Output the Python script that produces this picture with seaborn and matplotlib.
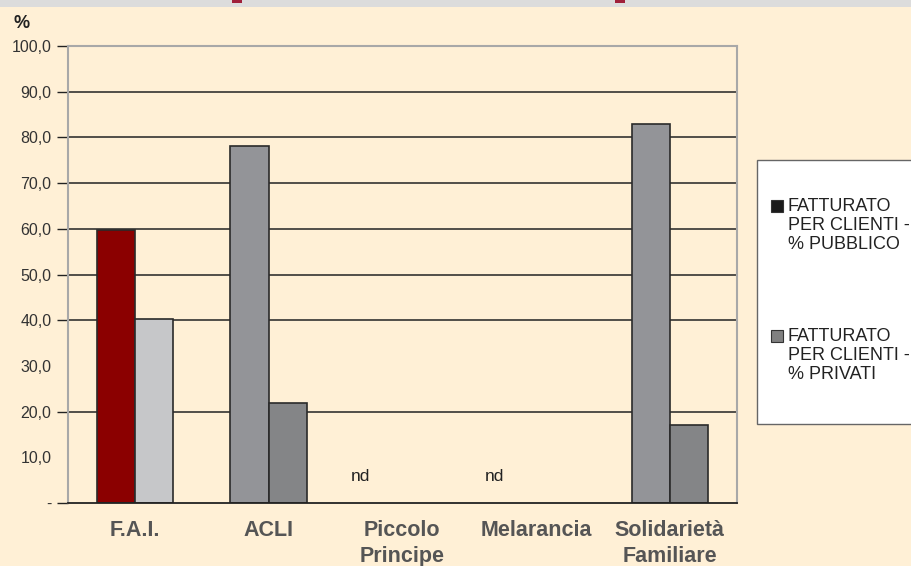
import pandas as pd
import numpy as np
import matplotlib.pyplot as plt
import matplotlib.patches as mpatches
import seaborn as sns

# Data
categories = ["F.A.I.", "ACLI", "Piccolo\nPrincipe", "Melarancia", "Solidarietà\nFamiliare"]
pubblico = [59.8, 78.2, np.nan, np.nan, 82.9]
privati = [40.2, 21.8, np.nan, np.nan, 17.1]
series = ["FATTURATO\nPER CLIENTI -\n% PUBBLICO", "FATTURATO\nPER CLIENTI -\n% PRIVATI"]
nd_categories = ["Piccolo\nPrincipe", "Melarancia"]
yticks = [0, 10, 20, 30, 40, 50, 60, 70, 80, 90, 100]
ytick_labels = ["-", "10,0", "20,0", "30,0", "40,0", "50,0", "60,0", "70,0", "80,0", "90,0", "100,0"]
visible_grid = [20, 40, 50, 60, 70, 80, 90, 100]

df = pd.DataFrame({"cat": categories * 2,
                   "serie": [series[0]] * 5 + [series[1]] * 5,
                   "val": pubblico + privati})

bg = "#FFF0D6"
sns.set_theme(style="white")
plt.rcParams['font.family'] = ['Liberation Sans', 'DejaVu Sans']
plt.rcParams['axes.grid'] = False

fig = plt.figure(figsize=(9.12, 5.66), dpi=100, facecolor=bg)
ax = fig.add_axes([0.0746, 0.111, 0.733, 0.808])
ax.set_facecolor(bg)

sns.barplot(data=df, x="cat", y="val", hue="serie", order=categories,
            hue_order=series, width=0.57, ax=ax, legend=False, errorbar=None,
            edgecolor="#2a2a2a", linewidth=1.2, saturation=1)

# per-bar colours as in the original
bar_colors = {0: ["#8B0000", "#939498", "#939498", "#939498", "#939498"],
              1: ["#C6C7C9", "#848587", "#848587", "#848587", "#848587"]}
for j, cont in enumerate(ax.containers):
    for i, bar in enumerate(cont):
        bar.set_facecolor(bar_colors[j][i])

# nd labels
for c in nd_categories:
    ax.text(categories.index(c) - 0.31, 5.8, "nd", ha="center", va="center",
            fontsize=12.5, color="#222222")

ax.set_xlim(-0.5, 4.5)
ax.set_ylim(0, 100)
ax.set_yticks(yticks)
ax.set_yticklabels(ytick_labels, fontsize=11.5, color="#333333")
ax.tick_params(axis="y", length=8, width=1, color="#222222", pad=4, left=True)
ax.tick_params(axis="x", length=0, pad=12)
for lbl in ax.get_xticklabels():
    lbl.set_fontsize(15.5)
    lbl.set_fontweight("bold")
    lbl.set_color("#555555")
    lbl.set_linespacing(1.3)
ax.set_xlabel("")
ax.set_ylabel("")

# only the gridlines the original shows (none at 10 and 30)
for v in visible_grid:
    ax.axhline(v, color="#222222", lw=1.1, zorder=0.5)
for t in ax.yaxis.get_major_ticks():
    if t.get_loc() not in visible_grid + [0]:
        t.tick1line.set_visible(False)

for s in ["left", "right", "top"]:
    ax.spines[s].set_color("#A8A8A8")
    ax.spines[s].set_linewidth(1.5)
ax.spines["bottom"].set_color("#222222")
ax.spines["bottom"].set_linewidth(1.3)

fig.text(0.015, 0.958, "%", fontsize=13, fontweight="bold", color="#222222", va="center")

# top grey band with cut-off title fragments
fig.patches.append(mpatches.Rectangle((0, 0.988), 1, 0.012, transform=fig.transFigure,
                                      facecolor="#DCDCDC", edgecolor="none"))
for x0 in [232, 615]:
    fig.patches.append(mpatches.Rectangle((x0 / 912, 0.994), 10 / 912, 0.006,
                                          transform=fig.transFigure,
                                          facecolor="#A0203A", edgecolor="none"))

# legend box, drawn by hand so the swatch sits on the first text line
W, H = 912, 566
fig.patches.append(mpatches.Rectangle((757 / W, 1 - 424 / H), 160 / W, 264 / H,
                                      transform=fig.transFigure, facecolor="white",
                                      edgecolor="#666666", linewidth=1))
swatches = ["#1a1a1a", "#808080"]
for k, (lab, col) in enumerate(zip(series, swatches)):
    ytop = 200 + k * 130
    fig.patches.append(mpatches.Rectangle((771 / W, 1 - (ytop + 12) / H), 12 / W, 12 / H,
                                          transform=fig.transFigure, facecolor=col,
                                          edgecolor="#333333", linewidth=0.8))
    fig.text(788 / W, 1 - (ytop - 2) / H, lab, fontsize=13, color="#222222",
             va="top", ha="left", linespacing=1.16)

fig.savefig("out.png", dpi=100, facecolor=bg)
